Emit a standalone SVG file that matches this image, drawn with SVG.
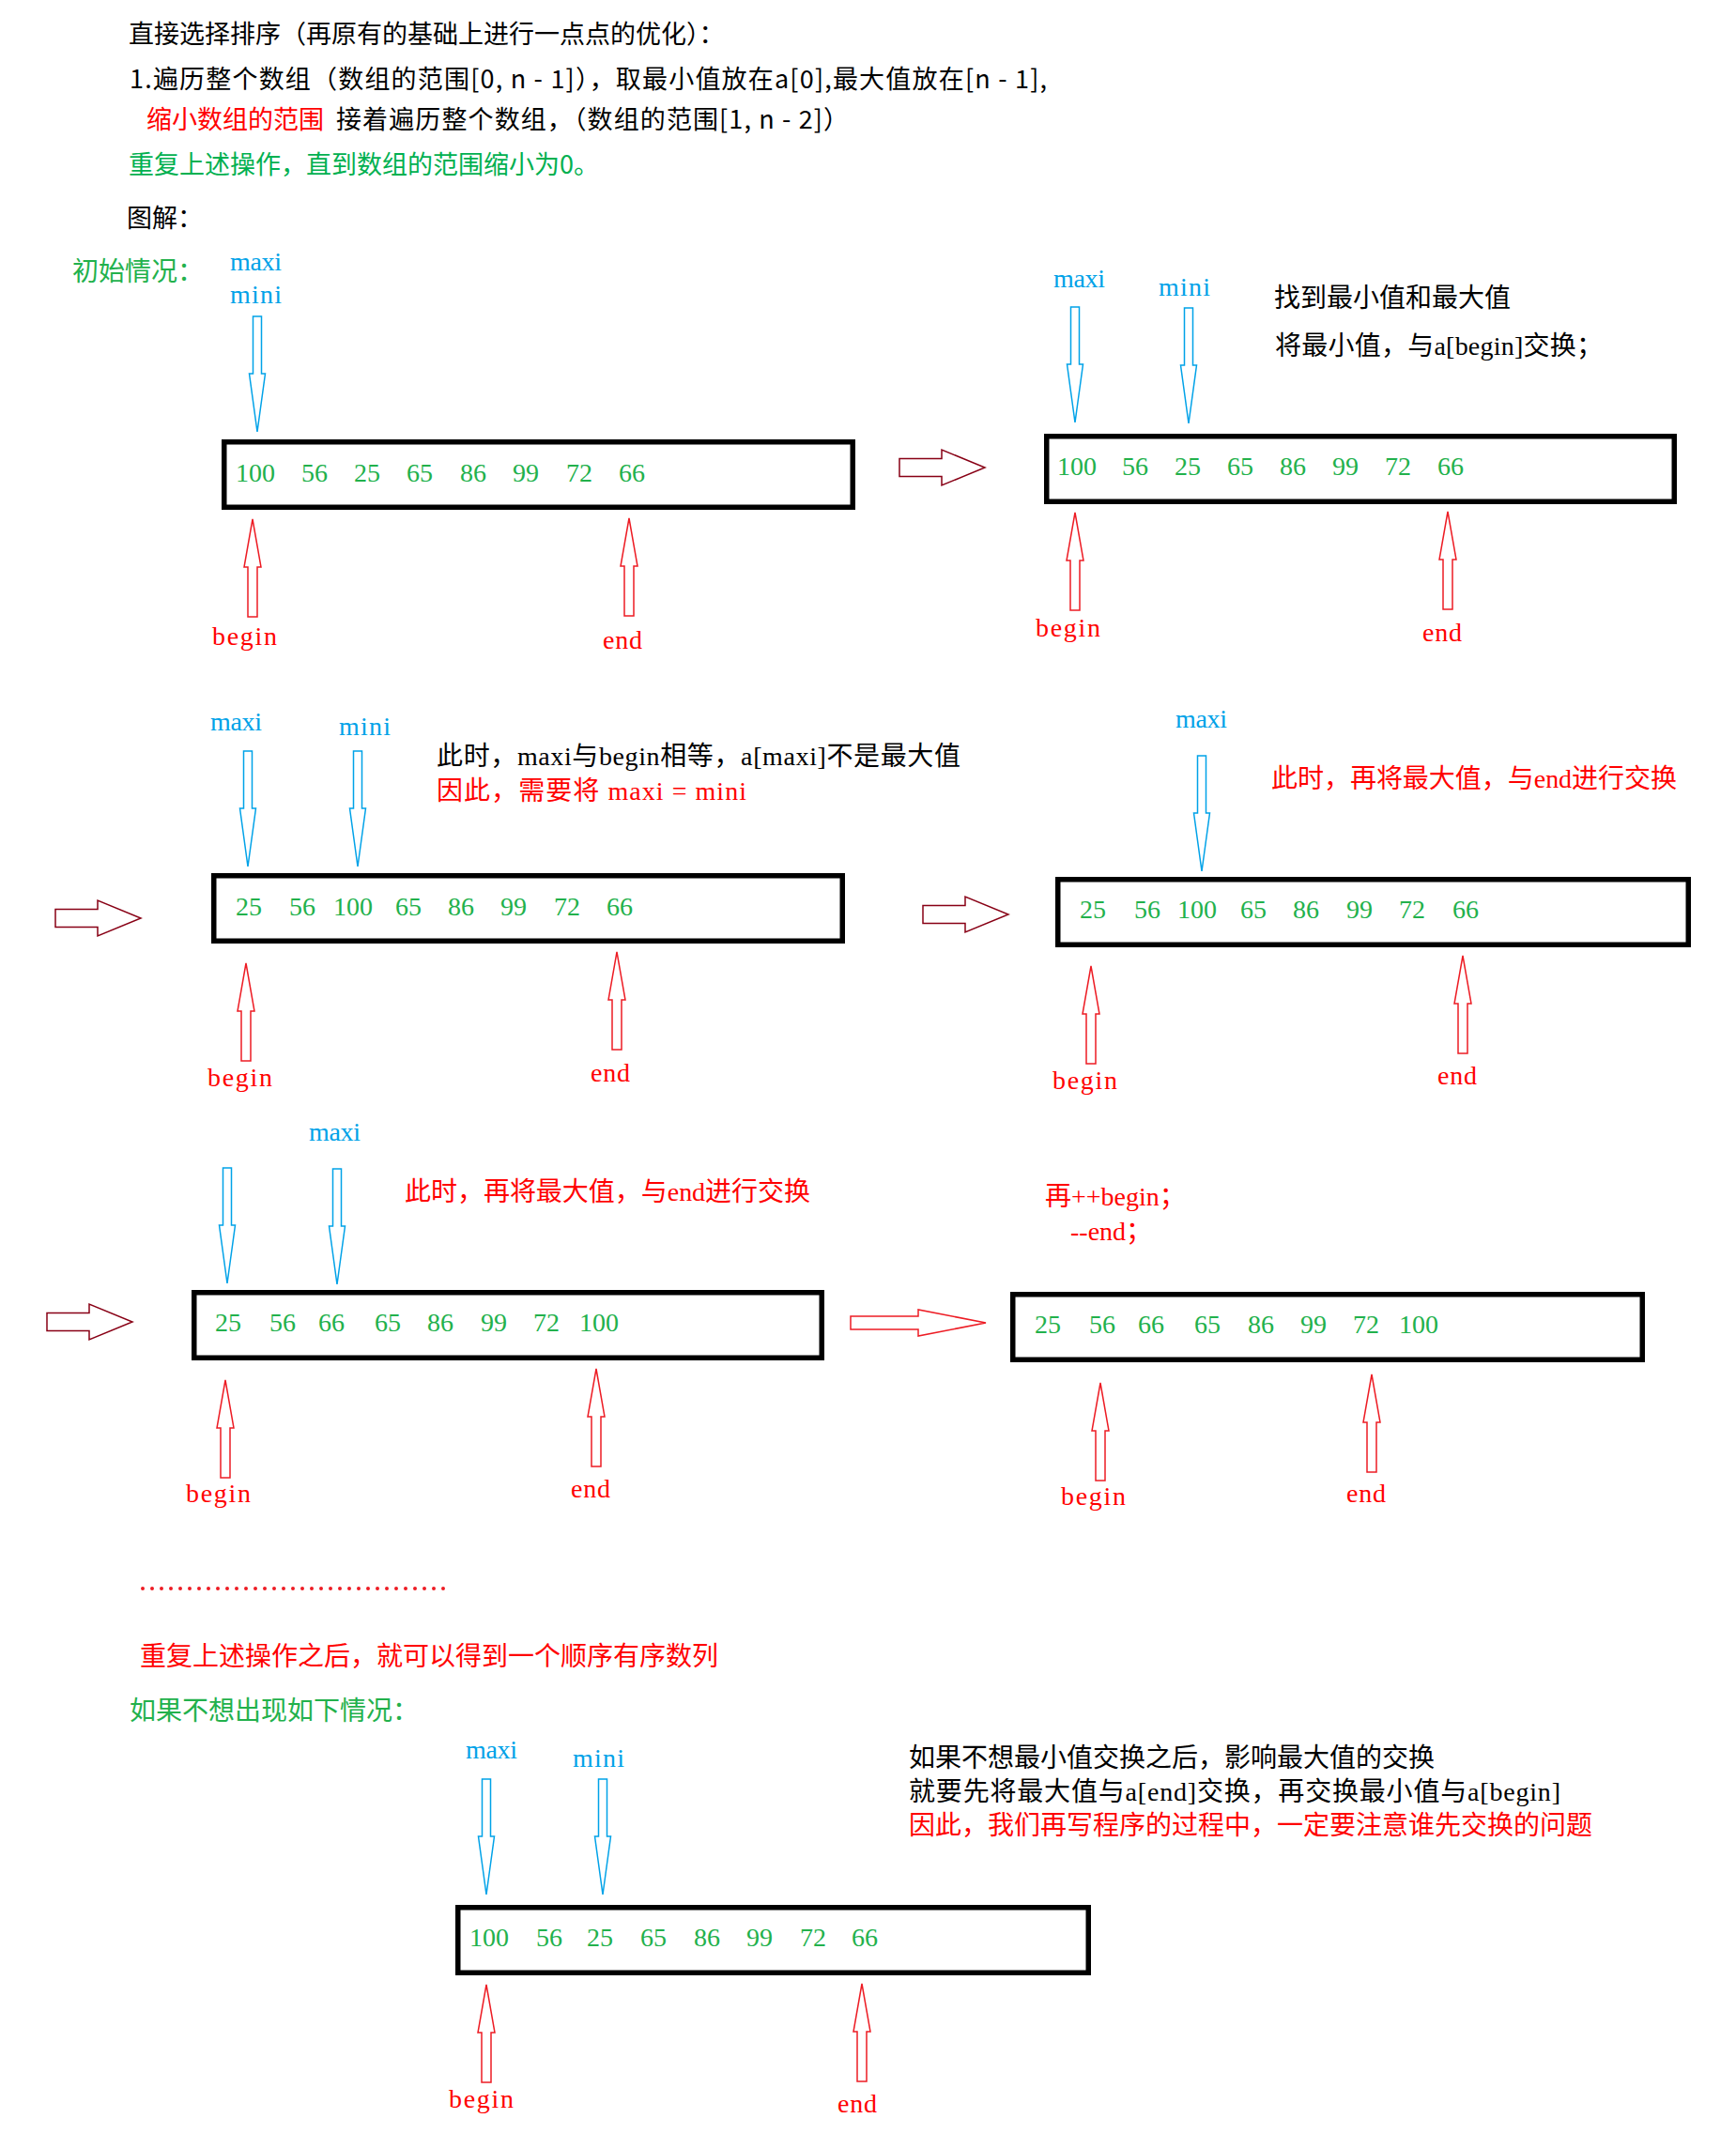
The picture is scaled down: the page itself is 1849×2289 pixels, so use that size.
<svg xmlns="http://www.w3.org/2000/svg" xmlns:xlink="http://www.w3.org/1999/xlink" width="1849" height="2289" viewBox="0 0 1849 2289">
<style>
  .hd { font-family: "Noto Sans CJK SC", "Noto Sans", sans-serif; font-size: 27px; fill: #000; }
  .t { font-family: "Liberation Serif", "Noto Sans CJK SC", serif; font-size: 28px; }
  .num { font-family: "Liberation Serif", serif; font-size: 28px; fill: #22B14C; }
  .blue { fill: #00A2E8; }
  .red { fill: #FF0000; }
  .green { fill: #22B14C; }
  .black { fill: #000; }
  .box { fill: none; stroke: #000; stroke-width: 5.5; }
  .darr { fill: #fff; stroke: #00A2E8; stroke-width: 1.5; }
  .uarr { fill: #fff; stroke: #ED1C24; stroke-width: 1.5; }
  .harr { fill: #fff; stroke: #880015; stroke-width: 1.5; }
  .harr2 { fill: #fff; stroke: #ED1C24; stroke-width: 1.5; }
</style>
<defs>
  <path id="down" d="M -4.5,-123 H 4.5 V -62 H 8.5 L 0,0 L -8.5,-62 H -4.5 Z"/>
  <path id="up" d="M 0,0 L 9,51 H 5 V 104 H -5 V 51 H -9 Z"/>
  <path id="right" d="M 0,-9.5 H 45 V -19 L 91,0 L 45,19 V 9.5 H 0 Z"/>
</defs>
<rect width="1849" height="2289" fill="#fff"/>

<g id="header">
  <text class="hd" x="137" y="46">直接选择排序（再原有的基础上进行一点点的优化）：</text>
  <text class="hd" x="138" y="94" textLength="977" lengthAdjust="spacing">1.遍历整个数组（数组的范围[0, n - 1]），取最小值放在a[0],最大值放在[n - 1],</text>
  <text class="hd" x="156" y="137"><tspan fill="#FF0000">缩小数组的范围</tspan></text>
  <text class="hd" x="358" y="137" textLength="546" lengthAdjust="spacing">接着遍历整个数组，（数组的范围[1, n - 2]）</text>
  <text class="hd" x="137" y="185" style="fill:#00B050">重复上述操作，直到数组的范围缩小为0。</text>
  <text class="hd" x="135" y="242">图解：</text>
</g>

<g id="connectors">
  <use xlink:href="#right" class="harr" transform="translate(958,498)"/>
  <use xlink:href="#right" class="harr" transform="translate(59,978)"/>
  <use xlink:href="#right" class="harr" transform="translate(983,974)"/>
  <use xlink:href="#right" class="harr" transform="translate(50,1408)"/>
  <path class="harr2" d="M 906,1402 H 978 V 1395 L 1050,1409 L 978,1423 V 1416 H 906 Z"/>
</g>

<g id="state1">
  <text class="t green" x="77" y="299">初始情况：</text>
  <text class="t blue" x="245" y="288" textLength="55">maxi</text>
  <text class="t blue" x="245" y="323" textLength="55">mini</text>
  <use xlink:href="#down" class="darr" transform="translate(274,460)"/>
  <rect class="box" x="238.75" y="470.75" width="669.5" height="69.5"/>
  <text class="num" y="513"><tspan x="251">100</tspan><tspan x="321">56</tspan><tspan x="377">25</tspan><tspan x="433">65</tspan><tspan x="490">86</tspan><tspan x="546">99</tspan><tspan x="603">72</tspan><tspan x="659">66</tspan></text>
  <use xlink:href="#up" class="uarr" transform="translate(269,553)"/>
  <use xlink:href="#up" class="uarr" transform="translate(670,552)"/>
  <text class="t red" x="226" y="687" textLength="69">begin</text>
  <text class="t red" x="642" y="691" textLength="42">end</text>
</g>

<g id="state2">
  <text class="t blue" x="1122" y="306" textLength="55">maxi</text>
  <text class="t blue" x="1234" y="315" textLength="55">mini</text>
  <use xlink:href="#down" class="darr" transform="translate(1145,450)"/>
  <use xlink:href="#down" class="darr" transform="translate(1266,451)"/>
  <text class="t black" x="1357" y="327">找到最小值和最大值</text>
  <text class="t black" x="1358" y="378" textLength="349" lengthAdjust="spacing">将最小值，与a[begin]交换；</text>
  <rect class="box" x="1114.75" y="464.75" width="668.5" height="69.5"/>
  <text class="num" y="506"><tspan x="1126">100</tspan><tspan x="1195">56</tspan><tspan x="1251">25</tspan><tspan x="1307">65</tspan><tspan x="1363">86</tspan><tspan x="1419">99</tspan><tspan x="1475">72</tspan><tspan x="1531">66</tspan></text>
  <use xlink:href="#up" class="uarr" transform="translate(1145,546)"/>
  <use xlink:href="#up" class="uarr" transform="translate(1542,545)"/>
  <text class="t red" x="1103" y="678" textLength="69">begin</text>
  <text class="t red" x="1515" y="683" textLength="42">end</text>
</g>

<g id="state3">
  <text class="t blue" x="224" y="778" textLength="55">maxi</text>
  <text class="t blue" x="361" y="783" textLength="55">mini</text>
  <use xlink:href="#down" class="darr" transform="translate(264,923)"/>
  <use xlink:href="#down" class="darr" transform="translate(381,923)"/>
  <text class="t black" x="465" y="815" textLength="558" lengthAdjust="spacing">此时，maxi与begin相等，a[maxi]不是最大值</text>
  <text class="t red" x="465" y="852" textLength="330" lengthAdjust="spacing">因此，需要将 maxi = mini</text>
  <rect class="box" x="227.75" y="932.75" width="669.5" height="69.5"/>
  <text class="num" y="975"><tspan x="251">25</tspan><tspan x="308">56</tspan><tspan x="355">100</tspan><tspan x="421">65</tspan><tspan x="477">86</tspan><tspan x="533">99</tspan><tspan x="590">72</tspan><tspan x="646">66</tspan></text>
  <use xlink:href="#up" class="uarr" transform="translate(262,1026)"/>
  <use xlink:href="#up" class="uarr" transform="translate(657,1014)"/>
  <text class="t red" x="221" y="1157" textLength="69">begin</text>
  <text class="t red" x="629" y="1152" textLength="42">end</text>
</g>

<g id="state4">
  <text class="t blue" x="1252" y="775" textLength="55">maxi</text>
  <use xlink:href="#down" class="darr" transform="translate(1280,928)"/>
  <text class="t red" x="1354" y="839" textLength="432" lengthAdjust="spacing">此时，再将最大值，与end进行交换</text>
  <rect class="box" x="1126.75" y="936.75" width="671.5" height="69.5"/>
  <text class="num" y="978"><tspan x="1150">25</tspan><tspan x="1208">56</tspan><tspan x="1254">100</tspan><tspan x="1321">65</tspan><tspan x="1377">86</tspan><tspan x="1434">99</tspan><tspan x="1490">72</tspan><tspan x="1547">66</tspan></text>
  <use xlink:href="#up" class="uarr" transform="translate(1162,1029)"/>
  <use xlink:href="#up" class="uarr" transform="translate(1558,1018)"/>
  <text class="t red" x="1121" y="1160" textLength="69">begin</text>
  <text class="t red" x="1531" y="1155" textLength="42">end</text>
</g>

<g id="state5">
  <text class="t blue" x="329" y="1215" textLength="55">maxi</text>
  <use xlink:href="#down" class="darr" transform="translate(242,1367)"/>
  <use xlink:href="#down" class="darr" transform="translate(359,1368)"/>
  <text class="t red" x="431" y="1279" textLength="432" lengthAdjust="spacing">此时，再将最大值，与end进行交换</text>
  <rect class="box" x="206.75" y="1376.75" width="668.5" height="69.5"/>
  <text class="num" y="1418"><tspan x="229">25</tspan><tspan x="287">56</tspan><tspan x="339">66</tspan><tspan x="399">65</tspan><tspan x="455">86</tspan><tspan x="512">99</tspan><tspan x="568">72</tspan><tspan x="617">100</tspan></text>
  <use xlink:href="#up" class="uarr" transform="translate(240,1470)"/>
  <use xlink:href="#up" class="uarr" transform="translate(635,1458)"/>
  <text class="t red" x="198" y="1600" textLength="69">begin</text>
  <text class="t red" x="608" y="1595" textLength="42">end</text>
</g>

<g id="state6">
  <text class="t red" x="1113" y="1284">再++begin；</text>
  <text class="t red" x="1140" y="1321">--end；</text>
  <rect class="box" x="1078.75" y="1378.75" width="670.5" height="69.5"/>
  <text class="num" y="1420"><tspan x="1102">25</tspan><tspan x="1160">56</tspan><tspan x="1212">66</tspan><tspan x="1272">65</tspan><tspan x="1329">86</tspan><tspan x="1385">99</tspan><tspan x="1441">72</tspan><tspan x="1490">100</tspan></text>
  <use xlink:href="#up" class="uarr" transform="translate(1172,1473)"/>
  <use xlink:href="#up" class="uarr" transform="translate(1461,1464)"/>
  <text class="t red" x="1130" y="1603" textLength="69">begin</text>
  <text class="t red" x="1434" y="1600" textLength="42">end</text>
</g>

<g id="summary">
  <line x1="152" y1="1692" x2="482" y2="1692" stroke="#ED1C24" stroke-width="4" stroke-linecap="round" stroke-dasharray="0 10"/>
  <text class="t red" x="149" y="1774">重复上述操作之后，就可以得到一个顺序有序数列</text>
  <text class="t green" x="138" y="1832">如果不想出现如下情况：</text>
</g>

<g id="state7">
  <text class="t blue" x="496" y="1873" textLength="55">maxi</text>
  <text class="t blue" x="610" y="1882" textLength="55">mini</text>
  <use xlink:href="#down" class="darr" transform="translate(518,2018)"/>
  <use xlink:href="#down" class="darr" transform="translate(642,2018)"/>
  <text class="t black" x="968" y="1882">如果不想最小值交换之后，影响最大值的交换</text>
  <text class="t black" x="968" y="1918" textLength="694" lengthAdjust="spacing">就要先将最大值与a[end]交换，再交换最小值与a[begin]</text>
  <text class="t red" x="968" y="1954">因此，我们再写程序的过程中，一定要注意谁先交换的问题</text>
  <rect class="box" x="487.75" y="2031.75" width="671.5" height="69.5"/>
  <text class="num" y="2073"><tspan x="500">100</tspan><tspan x="571">56</tspan><tspan x="625">25</tspan><tspan x="682">65</tspan><tspan x="739">86</tspan><tspan x="795">99</tspan><tspan x="852">72</tspan><tspan x="907">66</tspan></text>
  <use xlink:href="#up" class="uarr" transform="translate(518,2114)"/>
  <use xlink:href="#up" class="uarr" transform="translate(918,2113)"/>
  <text class="t red" x="478" y="2245" textLength="69">begin</text>
  <text class="t red" x="892" y="2250" textLength="42">end</text>
</g>
</svg>
